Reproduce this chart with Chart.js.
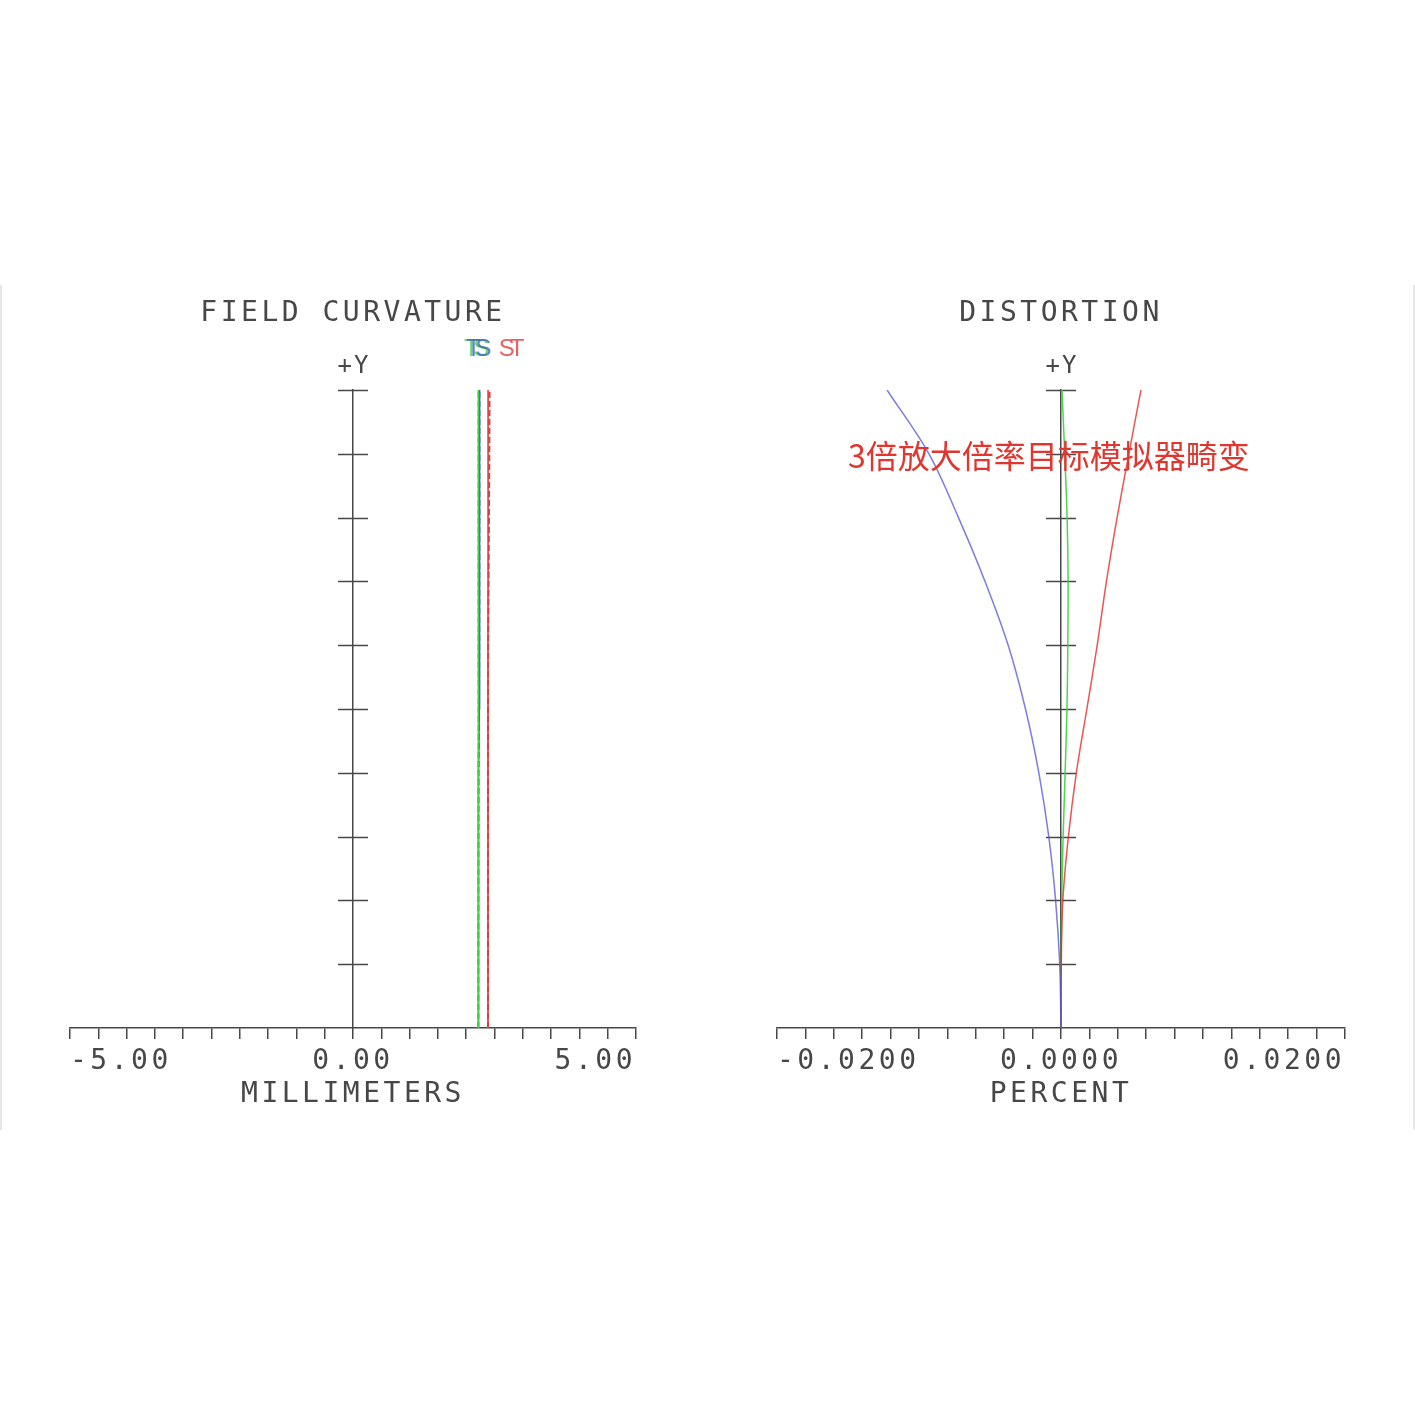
<!DOCTYPE html>
<html><head><meta charset="utf-8">
<script src="https://cdn.jsdelivr.net/npm/chart.js@4/dist/chart.umd.min.js"></script>
<style>
html,body{margin:0;padding:0;background:#fff;width:1415px;height:1415px;overflow:hidden;}
#c1{position:absolute;left:0;top:0;}
#c2{position:absolute;left:707px;top:0;}
#frame{position:absolute;left:0;top:285px;width:1415px;height:845px;border-left:2px solid #e6e6e6;border-right:2px solid #e6e6e6;box-sizing:border-box;}
#note{position:absolute;left:848px;top:434px;font-family:"Noto Sans CJK SC";font-size:32px;line-height:40px;color:#e0362f;white-space:nowrap;}
</style></head><body>
<div id="frame"></div>
<canvas id="c1" width="707" height="1415"></canvas>
<canvas id="c2" width="708" height="1415"></canvas>
<div id="note">3倍放大倍率目标模拟器畸变</div>
<script>
// ---------- data ----------
const fieldY      = [0, 0.1, 0.2, 0.3, 0.4, 0.5, 0.6, 0.7, 0.8, 0.9, 1.0];
// Field curvature (mm)
const fcGreenT = [2.215, 2.215, 2.215, 2.215, 2.215, 2.215, 2.215, 2.215, 2.215, 2.215, 2.215];
const fcGreenS = [2.215, 2.215, 2.215, 2.215, 2.215, 2.215, 2.215, 2.215, 2.215, 2.215, 2.215];
const fcBlueT  = [2.215, 2.215, 2.216, 2.217, 2.220, 2.230, 2.234, 2.235, 2.236, 2.236, 2.237];
const fcBlueS  = [2.215, 2.215, 2.216, 2.217, 2.220, 2.230, 2.234, 2.235, 2.236, 2.236, 2.237];
const fcRedT   = [2.385, 2.385, 2.385, 2.385, 2.385, 2.385, 2.385, 2.386, 2.386, 2.387, 2.387];
const fcRedS   = [2.385, 2.385, 2.385, 2.385, 2.385, 2.386, 2.388, 2.396, 2.404, 2.410, 2.414];
// Distortion (percent)
const distBlue  = [0, -0.00009, -0.00038, -0.00086, -0.00156, -0.00250, -0.00372, -0.00535, -0.00722, -0.00930, -0.01225];
const distGreen = [0, 0.00001, 0.00005, 0.00015, 0.00029, 0.00042, 0.00048, 0.00050, 0.00043, 0.00026, 0.00007];
const distRed   = [0, 0.00002, 0.00013, 0.00052, 0.00108, 0.00182, 0.00255, 0.00320, 0.00395, 0.00478, 0.00563];
// axis labels
const fcLabelTicks   = [-5, 0, 5];
const distLabelTicks = [-0.02, 0, 0.02];

const MONO = '"DejaVu Sans Mono", monospace';
const INK = '#474747';
const pts = (xs) => xs.map((v, i) => ({x: v, y: fieldY[i]}));

const spacing = {
  id: 'spacing',
  beforeUpdate(c) { c.ctx.letterSpacing = '3.5px'; },
  beforeDraw(c) { c.ctx.letterSpacing = '3.5px'; }
};

const crossTicks = {
  id: 'crossTicks',
  beforeDatasetsDraw(c) {
    const ys = c.scales.y, xs = c.scales.x, ctx = c.ctx;
    const ax = xs.getPixelForValue(0);
    ctx.save();
    ctx.strokeStyle = INK; ctx.lineWidth = 1.5; ctx.setLineDash([]);
    ys.ticks.forEach(t => {
      if (t.value <= 0) return;
      const py = Math.round(ys.getPixelForValue(t.value)) + 0.5;
      ctx.beginPath(); ctx.moveTo(ax - 15, py); ctx.lineTo(ax + 15, py); ctx.stroke();
    });
    ctx.font = '24px ' + MONO; ctx.fillStyle = INK;
    ctx.textAlign = 'center'; ctx.textBaseline = 'middle'; ctx.letterSpacing = '2px';
    ctx.fillText('+Y', ax + 1, ys.top - 23);
    ctx.restore();
  }
};

const tagLabels = {
  id: 'tagLabels',
  afterDatasetsDraw(c) {
    const ctx = c.ctx, ys = c.scales.y;
    ctx.save();
    ctx.font = '24px "Liberation Sans", Arial, sans-serif';
    ctx.letterSpacing = '0px';
    ctx.textAlign = 'center'; ctx.textBaseline = 'middle';
    c.data.datasets.forEach((ds, i) => {
      if (!ds.tag) return;
      const meta = c.getDatasetMeta(i);
      const top = meta.data[meta.data.length - 1];
      ctx.fillStyle = ds.borderColor;
      ctx.globalAlpha = 0.8;
      ctx.fillText(ds.tag, top.x + ds.tagDx, ys.top - 41);
    });
    ctx.restore();
  }
};

function axisX(min, max, step, labelSet, digits, title) {
  return {
    type: 'linear', min: min, max: max,
    border: {display: true, color: INK, width: 1.5},
    grid: {drawOnChartArea: false, drawTicks: true, tickLength: 11, color: INK, lineWidth: 1.5},
    ticks: {
      stepSize: step, autoSkip: false, maxRotation: 0, align: 'inner', padding: 11,
      color: INK, font: {family: MONO, size: 28, lineHeight: 0.85},
      callback: (v) => labelSet.some(l => Math.abs(l - v) < step / 100) ? (Math.abs(v) < step / 100 ? 0 : v).toFixed(digits) : ''
    },
    title: {display: true, text: title, color: INK, font: {family: MONO, size: 28, lineHeight: 0.7}, padding: {top: 0, bottom: 10}}
  };
}
function axisY(dash) {
  return {
    type: 'linear', min: 0, max: 1, position: {x: 0},
    border: {display: true, color: INK, width: 1.5, dash: dash},
    grid: {display: false, drawOnChartArea: false, drawTicks: false},
    ticks: {display: false, stepSize: 0.1}
  };
}
function baseOptions(title, padL, padR) {
  return {
    responsive: false, animation: false, devicePixelRatio: 1,
    layout: {padding: {left: padL, right: padR, top: 250, bottom: 300.6}},
    plugins: {
      legend: {display: false}, tooltip: {enabled: false},
      title: {display: true, text: title, color: INK, font: {family: MONO, size: 28, lineHeight: 1.2, weight: 'normal'}, padding: {top: 47, bottom: 59.4}}
    },
    elements: {point: {radius: 0}}
  };
}

// ---------- Field curvature ----------
const o1 = baseOptions('FIELD CURVATURE', 70, 71);
o1.scales = {x: axisX(-5, 5, 0.5, fcLabelTicks, 2, 'MILLIMETERS'), y: axisY([4, 2])};
new Chart(document.getElementById('c1'), {
  type: 'scatter',
  data: {datasets: [
    {label: 'T 0.546', data: pts(fcGreenT), borderColor: '#3fd13f', borderWidth: 1.6, showLine: true, tension: 0, tag: 'T', tagDx: -7},
    {label: 'S 0.546', data: pts(fcGreenS), borderColor: '#3fd13f', borderWidth: 1.6, showLine: true, tension: 0, borderDash: [6, 3], tag: 'S', tagDx: 3},
    {label: 'T 0.486', data: pts(fcBlueT), borderColor: '#3a5fc0', borderWidth: 1.6, showLine: true, tension: 0, tag: 'T', tagDx: -6},
    {label: 'S 0.486', data: pts(fcBlueS), borderColor: '#3a5fc0', borderWidth: 1.6, showLine: true, tension: 0, borderDash: [6, 3], tag: 'S', tagDx: 4},
    {label: 'T 0.656', data: pts(fcRedT), borderColor: '#e03a3a', borderWidth: 1.6, showLine: true, tension: 0, tag: 'T', tagDx: 29},
    {label: 'S 0.656', data: pts(fcRedS), borderColor: '#e03a3a', borderWidth: 1.8, showLine: true, tension: 0, borderDash: [6, 3], tag: 'S', tagDx: 17}
  ]},
  options: o1,
  plugins: [spacing, crossTicks, tagLabels]
});

// ---------- Distortion ----------
const o2 = baseOptions('DISTORTION', 70, 70);
o2.scales = {x: axisX(-0.02, 0.02, 0.002, distLabelTicks, 4, 'PERCENT'), y: axisY([])};
new Chart(document.getElementById('c2'), {
  type: 'scatter',
  data: {datasets: [
    {label: '0.486', data: pts(distBlue), borderColor: 'rgba(80,80,215,0.75)', borderWidth: 1.5, showLine: true, tension: 0.35},
    {label: '0.656', data: pts(distRed), borderColor: 'rgba(225,45,45,0.8)', borderWidth: 1.5, showLine: true, tension: 0.35},
    {label: '0.546', data: pts(distGreen), borderColor: 'rgba(60,210,60,0.9)', borderWidth: 1.5, showLine: true, tension: 0.35}
  ]},
  options: o2,
  plugins: [spacing, crossTicks]
});
</script>
</body></html>
